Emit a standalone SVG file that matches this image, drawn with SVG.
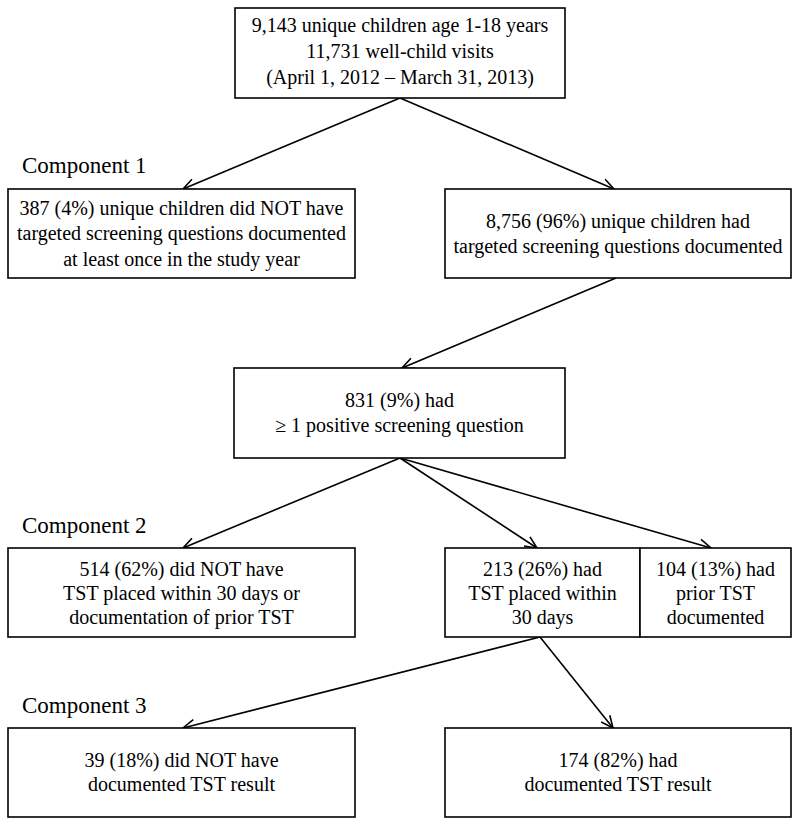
<svg xmlns="http://www.w3.org/2000/svg" width="800" height="827" viewBox="0 0 800 827">
<style>
.box{fill:#fff;stroke:#000;stroke-width:1.6}
.t{font-family:"Liberation Serif","Times New Roman",serif;font-size:20px;fill:#000;text-anchor:middle}
.c{font-family:"Liberation Serif","Times New Roman",serif;font-size:23px;fill:#000}
.e{stroke:#000;stroke-width:1.6;fill:none;marker-end:url(#a)}
</style>
<defs>
<marker id="a" markerUnits="userSpaceOnUse" markerWidth="14" markerHeight="14" viewBox="0 0 14 14" refX="13" refY="7" orient="auto">
<path d="M1,1.5 L13,7 L1,12.5" fill="none" stroke="#000" stroke-width="1.6"/>
</marker>
</defs>
<rect width="800" height="827" fill="#fff"/>
<g id="connectors">
<line class="e" x1="400" y1="98" x2="183" y2="189"/>
<line class="e" x1="400" y1="98" x2="614" y2="189"/>
<line class="e" x1="616" y1="278" x2="402" y2="368"/>
<line class="e" x1="400" y1="458" x2="183" y2="548"/>
<line class="e" x1="400" y1="458" x2="537" y2="548"/>
<line class="e" x1="400" y1="458" x2="711" y2="548"/>
<line class="e" x1="540" y1="637" x2="183" y2="728"/>
<line class="e" x1="540" y1="637" x2="613" y2="728"/>
</g>
<g id="labels">
<text class="c" x="22" y="173">Component 1</text>
<text class="c" x="22" y="533">Component 2</text>
<text class="c" x="22" y="713">Component 3</text>
</g>
<g id="n0">
<rect class="box" x="235" y="8" width="330" height="90"/>
<text class="t" x="400" y="32">9,143 unique children age 1-18 years</text>
<text class="t" x="400" y="58">11,731 well-child visits</text>
<text class="t" x="400" y="84">(April 1, 2012 – March 31, 2013)</text>
</g>
<g id="n1">
<rect class="box" x="8" y="189" width="347" height="89"/>
<text class="t" x="181.5" y="215">387 (4%) unique children did NOT have</text>
<text class="t" x="181.5" y="240">targeted screening questions documented</text>
<text class="t" x="181.5" y="266">at least once in the study year</text>
</g>
<g id="n2">
<rect class="box" x="445" y="189" width="346" height="89"/>
<text class="t" x="618" y="228">8,756 (96%) unique children had</text>
<text class="t" x="618" y="253">targeted screening questions documented</text>
</g>
<g id="n3">
<rect class="box" x="234" y="368" width="331" height="90"/>
<text class="t" x="399.5" y="407">831 (9%) had</text>
<text class="t" x="399.5" y="432">≥ 1 positive screening question</text>
</g>
<g id="n4">
<rect class="box" x="8" y="548" width="347" height="89"/>
<text class="t" x="181.5" y="576">514 (62%) did NOT have</text>
<text class="t" x="181.5" y="600">TST placed within 30 days or</text>
<text class="t" x="181.5" y="624">documentation of prior TST</text>
</g>
<g id="n5">
<rect class="box" x="445" y="548" width="195" height="89"/>
<text class="t" x="542.5" y="576">213 (26%) had</text>
<text class="t" x="542.5" y="600">TST placed within</text>
<text class="t" x="542.5" y="624">30 days</text>
</g>
<g id="n6">
<rect class="box" x="640" y="548" width="151" height="89"/>
<text class="t" x="715.5" y="576">104 (13%) had</text>
<text class="t" x="715.5" y="600">prior TST</text>
<text class="t" x="715.5" y="624">documented</text>
</g>
<g id="n7">
<rect class="box" x="8" y="728" width="347" height="89"/>
<text class="t" x="181.5" y="767">39 (18%) did NOT have</text>
<text class="t" x="181.5" y="791">documented TST result</text>
</g>
<g id="n8">
<rect class="box" x="445" y="728" width="346" height="89"/>
<text class="t" x="618" y="767">174 (82%) had</text>
<text class="t" x="618" y="791">documented TST result</text>
</g>
</svg>
